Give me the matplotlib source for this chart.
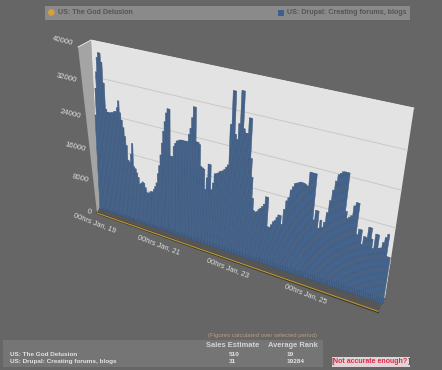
import numpy as np
import matplotlib
matplotlib.use("Agg")
import matplotlib.pyplot as plt
from matplotlib.transforms import Transform
from matplotlib.patches import Polygon, Rectangle, Circle

plt.rcParams['font.family'] = ['Liberation Sans', 'DejaVu Sans']

# ---------- data ----------
hourly_sales_rate = [
    23400, 29600, 33300, 36500, 37600, 37600, 35700, 31200, 25400, 24800,
    24800, 24800, 25000, 25000, 25400, 25400, 26400, 28000, 25400, 23800, 22200,
    20200, 18200, 14800, 14400, 16400, 19000, 13600, 13200, 12300, 11300,
    9700, 10100, 10500, 10300, 9300, 8200, 8200, 8400, 8800, 8800,
    9500, 10300, 11300, 13600, 15600, 18200, 21000, 23800, 26000, 28000,
    29000, 29000, 18600, 18600, 21000, 21800, 22400, 22600, 22800, 22900,
    22900, 22900, 22900, 23000, 24600, 26000, 28400, 30800, 30800, 23400, 23400,
    23000, 18200, 18000, 17800, 13200, 16000, 19200, 19200, 13600, 15200,
    17400, 17600, 17800, 18200, 18400, 18600, 19000, 19600, 20200, 29000,
    36000, 36000, 27200, 26200, 29600, 36400, 36400, 28800, 28000, 28000,
    31300, 31300, 23000, 19000, 14400, 11700, 11500, 11700, 12300,
    12700, 13200, 13800, 15600, 15600, 9000, 9000, 9700, 10500, 10900,
    11700, 12400, 12400, 10500, 14000, 16000, 16800, 18600, 19400, 20200,
    20400, 20600, 20800, 20800, 20800, 20600, 20400, 23400, 23400, 23400,
    23400, 13600, 15800, 15800, 12100, 14000, 12500, 13800, 16000, 18700,
    21000, 23000, 24400, 24800, 25200, 25300, 25300, 25300, 17400, 16000,
    16400, 16800, 19000, 19800, 19800, 13200, 14500, 14500, 11500, 13300,
    13200, 15500, 15500, 13200, 11300, 14500, 14500, 11700, 11900, 13200,
    14400, 15200, 10500, 10500,
]
hours = list(range(len(hourly_sales_rate)))
y_ticks = [0, 8000, 16000, 24000, 32000, 40000]
x_tick_hours = [0, 48, 96, 144]
x_tick_labels = ['00hrs Jan, 19', '00hrs Jan, 21', '00hrs Jan, 23', '00hrs Jan, 25']
series_names = ['US: The God Delusion', 'US: Drupal: Creating forums, blogs']
sales_estimate = ['510', '31']
average_rank = ['19', '19284']

# ---------- perspective ----------
X_MAX = len(hourly_sales_rate)
Y_MAX = 40000


def homography(corners):
    src = [(0, 0), (1, 0), (1, 1), (0, 1)]
    A, b = [], []
    for (u, v), (x, y) in zip(src, corners):
        A.append([u, v, 1, 0, 0, 0, -u * x, -v * x])
        A.append([0, 0, 0, u, v, 1, -u * y, -v * y])
        b += [x, y]
    return np.append(np.linalg.solve(np.array(A, float), np.array(b, float)), 1).reshape(3, 3)


class Perspective(Transform):
    input_dims = output_dims = 2
    is_affine = False

    def __init__(self, corners):
        super().__init__()
        self.m = homography(corners)

    def transform_non_affine(self, values):
        p = np.asarray(values, float)
        q = np.column_stack([p[:, 0] / X_MAX, p[:, 1] / Y_MAX, np.ones(len(p))]) @ self.m.T
        return q[:, :2] / q[:, 2:]


fig = plt.figure(figsize=(4.42, 3.70), dpi=100, facecolor='#666666')
ax = fig.add_axes([0, 0, 1, 1])
ax.set_xlim(0, 442)
ax.set_ylim(370, 0)
ax.axis('off')
ax.set_autoscale_on(False)

wall = Perspective([(100, 207), (385, 298), (414, 108), (91, 40)]) + ax.transData
front = Perspective([(100, 209), (383, 304), (414, 108), (91, 40)]) + ax.transData

# legend strip
ax.add_patch(Rectangle((45, 6), 365, 14, fc='#8a8a8a', ec='none'))
ax.add_patch(Circle((51.3, 12.5), 3.3, fc='#d99f3a', ec='none'))
ax.add_patch(Rectangle((278, 9.5), 6, 6, fc='#3f5f8a', ec='none'))
ax.text(57.5, 12.7, series_names[0], color='#555555', fontsize=5.1, fontweight='bold', va='center')
ax.text(287, 12.7, series_names[1], color='#555555', fontsize=5.15, fontweight='bold', va='center')

# box faces
ax.add_patch(Polygon([(78, 47), (91, 40), (100, 207), (97, 213)], fc='#a4a4a4', ec='none', zorder=1))
ax.add_patch(Polygon([(97, 213), (100, 207), (385, 298), (378, 312)], fc='#565656', ec='none', zorder=1))
ax.add_patch(Polygon([(100, 207), (385, 298), (414, 108), (91, 40)], fc='#e3e3e3', ec='none', zorder=1))
ax.plot([78, 91, 414], [47, 40, 108], color='#efefef', lw=0.6, zorder=1.1)

# grid on the back wall
for v in y_ticks[1:-1]:
    ax.plot([0, X_MAX], [v, v], color='#c8c8c8', lw=0.7, transform=wall, zorder=1.2)

# bars
ax.bar(hours, hourly_sales_rate, width=1.0, align='edge', bottom=0,
       facecolor='#46658e', edgecolor='#3a5578', linewidth=0.35, transform=front, zorder=2)

# floor edge
ax.plot([97, 378], [213, 312], color='#3c3a30', lw=1.6, zorder=3)
ax.plot([97, 378], [213, 311.3], color='#c09a35', lw=0.8, zorder=3)

# y labels
y_label_xy = [(91, 213), (89, 181), (85, 150), (81, 117), (77, 81), (73, 44)]
for v, (x, y) in zip(y_ticks, y_label_xy):
    ax.text(x, y, f'{v}', color='#dedede', fontsize=5.6, rotation=-14, rotation_mode='anchor',
            ha='right', va='center')

# x labels
for h, lab in zip(x_tick_hours, x_tick_labels):
    ax.annotate(lab, xy=(h, 0), xycoords=front, xytext=(-5, -14), textcoords='offset pixels',
                color='#dedede', fontsize=5.3, rotation=-21, rotation_mode='anchor',
                ha='center', va='center')

# summary table
ax.add_patch(Rectangle((3, 340), 320, 27, fc='#757575', ec='none'))
ax.text(262, 335.5, '(Figures calculated over selected period)', color='#b5a07e', fontsize=4.3,
        ha='center', va='center')
ax.text(233, 345.3, 'Sales Estimate', color='#d4d4d4', fontsize=5.4, fontweight='bold', ha='center', va='center')
ax.text(293, 345.3, 'Average Rank', color='#d4d4d4', fontsize=5.4, fontweight='bold', ha='center', va='center')
for name, s, r, y in zip(series_names, sales_estimate, average_rank, [354.5, 361.5]):
    ax.text(10, y, name, color='#e2e2e2', fontsize=4.55, fontweight='bold', va='center')
    ax.text(229, y, s, color='#e2e2e2', fontsize=4.55, fontweight='bold', va='center')
    ax.text(287, y, r, color='#e2e2e2', fontsize=4.55, fontweight='bold', va='center')

# accuracy link
ax.add_patch(Rectangle((332, 357), 78, 9.5, fc='#e2d4d6', ec='none'))
ax.text(333, 361.7, '[', color='#333333', fontsize=6, ha='center', va='center')
ax.text(409.5, 361.7, ']', color='#333333', fontsize=6, ha='center', va='center')
ax.text(370.5, 361.9, 'Not accurate enough?', color='#dc2a48', fontsize=5.05, fontweight='bold',
        ha='center', va='center')

fig.savefig('out.png', dpi=100, facecolor=fig.get_facecolor())
